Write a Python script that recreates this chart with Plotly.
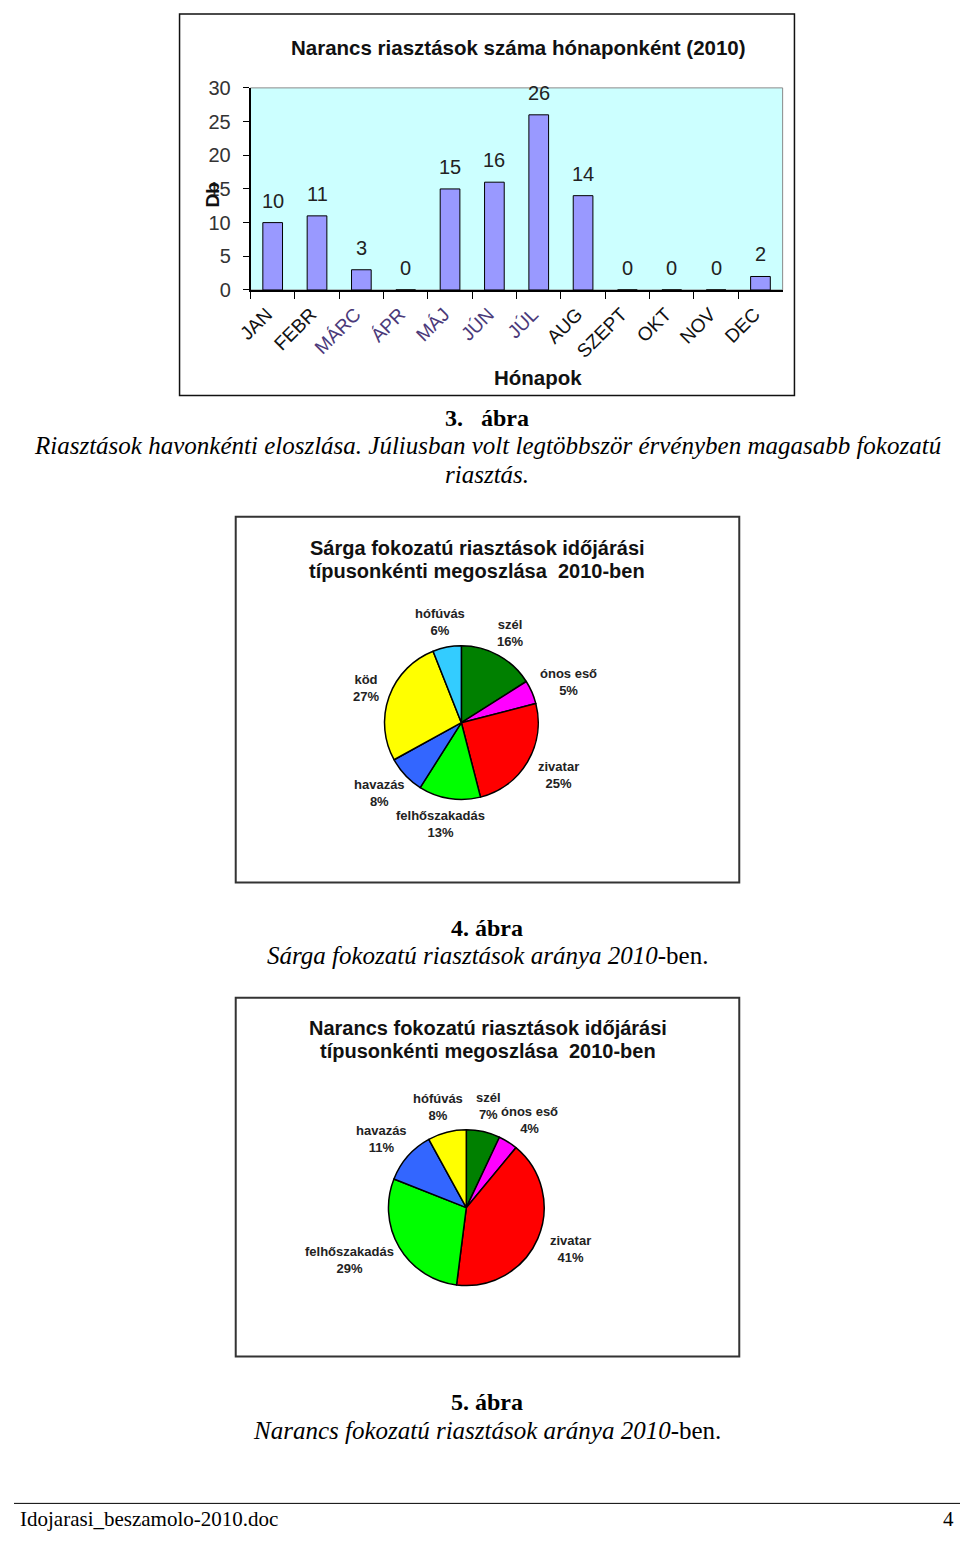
import math
import plotly.graph_objects as go

W, H = 960, 1541

# ---------------- data ----------------
months = ["JAN", "FEBR", "MÁRC", "ÁPR", "MÁJ", "JÚN", "JÚL", "AUG", "SZEPT", "OKT", "NOV", "DEC"]
orange_counts = [10, 11, 3, 0, 15, 16, 26, 14, 0, 0, 0, 2]
accented_months = ["MÁRC", "ÁPR", "MÁJ", "JÚN", "JÚL"]
y_ticks = [0, 5, 10, 15, 20, 25, 30]

yellow_types = ["szél", "ónos eső", "zivatar", "felhőszakadás", "havazás", "köd", "hófúvás"]
yellow_pct = [16, 5, 25, 13, 8, 27, 6]
yellow_colors = ["#008000", "#ff00ff", "#ff0000", "#00ff00", "#3366ff", "#ffff00", "#33ccff"]

orange_types = ["szél", "ónos eső", "zivatar", "felhőszakadás", "havazás", "hófúvás"]
orange_pct = [7, 4, 41, 29, 11, 8]
orange_colors = ["#008000", "#ff00ff", "#ff0000", "#00ff00", "#3366ff", "#ffff00"]


def X(px):
    return px / W


def Y(py):
    return 1 - py / H


fig = go.Figure()

# ---------------- bar chart ----------------
fig.add_trace(go.Bar(
    x=months, y=orange_counts,
    marker=dict(color="#9999ff", line=dict(color="#000000", width=1)),
    xaxis="x", yaxis="y", showlegend=False, hoverinfo="x+y",
))

tick_text = [
    (f"<span style='color:#4b3a7a'>{m}</span>" if m in accented_months else m) for m in months
]

fig.update_layout(
    xaxis=dict(
        domain=[X(240), X(780)], anchor="y",
        tickmode="array", tickvals=months, ticktext=tick_text,
        tickangle=-45, tickfont=dict(family="Liberation Sans, Arial", size=19, color="#111"),
        ticks="outside", ticklen=7, tickcolor="#000", tickson="boundaries",
        ticklabelstandoff=4, ticklabelshift=-6,
        showline=True, linecolor="#000", linewidth=1.5,
        showgrid=False, zeroline=False, fixedrange=True,
    ),
    yaxis=dict(
        domain=[Y(283), Y(78)], anchor="x",
        range=[0, 30], tickmode="array", tickvals=y_ticks,
        tickfont=dict(family="Liberation Sans, Arial", size=20, color="#333"),
        ticks="outside", ticklen=6, tickcolor="#000", ticklabelstandoff=8,
        showline=True, linecolor="#000", linewidth=1.5,
        showgrid=False, zeroline=False, fixedrange=True,
    ),
    plot_bgcolor="#ccffff",
    bargap=0.556,
)

annotations = []
# value labels above the bars, positioned through the data scales
for m, v in zip(months, orange_counts):
    annotations.append(dict(
        x=m, y=v, xref="x", yref="y", text=str(v), showarrow=False,
        yanchor="middle", yshift=22,
        font=dict(family="Liberation Sans, Arial", size=20, color="#222"),
    ))

shapes = [
    dict(type="rect", xref="x domain", yref="y domain", x0=0, x1=1, y0=0, y1=1,
         line=dict(color="#8a8a8a", width=1), layer="below"),
    dict(type="rect", xref="paper", yref="paper", x0=X(168), x1=X(792), y0=Y(390), y1=Y(3),
         line=dict(color="#111", width=1.5)),
    dict(type="rect", xref="paper", yref="paper", x0=X(225), x1=X(736), y0=Y(884), y1=Y(513),
         line=dict(color="#333", width=2)),
    dict(type="rect", xref="paper", yref="paper", x0=X(225), x1=X(736), y0=Y(1365), y1=Y(1001),
         line=dict(color="#333", width=2)),
    dict(type="line", xref="paper", yref="paper", x0=0, x1=1, y0=Y(1514), y1=Y(1514),
         line=dict(color="#000", width=1)),
]

sans_b = "Liberation Sans, Arial"
serif = "Liberation Serif, Times New Roman"


def txt(x, y, s, size, family=sans_b, color="#111", xanchor="center", yanchor="middle", angle=0):
    annotations.append(dict(
        x=X(x), y=Y(y), xref="paper", yref="paper", text=s, showarrow=False,
        xanchor=xanchor, yanchor=yanchor, textangle=angle,
        font=dict(family=family, size=size, color=color),
    ))


txt(512, 37, "<b>Narancs riasztások száma hónaponként (2010)</b>", 20.5)
txt(532, 372, "<b>Hónapok</b>", 20.5)
txt(201, 187, "<b>Db</b>", 19, angle=-90)

# ---------------- pies ----------------
LABEL_FS = 13


def add_pie(labels, values, colors, cx, cy, R, name):
    fig.add_trace(go.Pie(
        labels=labels, values=values, sort=False, direction="clockwise", rotation=0,
        marker=dict(colors=colors, line=dict(color="#000", width=1.5)),
        textinfo="none", showlegend=False, name=name,
        domain=dict(x=[X(cx - R), X(cx + R)], y=[Y(cy + R), Y(cy - R)]),
    ))
    total = sum(values)
    cum = 0
    for lab, v in zip(labels, values):
        f = (cum + v / 2) / total
        cum += v
        th = 2 * math.pi * f
        s, c = math.sin(th), math.cos(th)
        rr = R + 10
        w = 0.58 * LABEL_FS * max(len(lab), 4)
        h = 2 * LABEL_FS * 1.25
        px = cx + rr * s + s * w / 2
        py = cy - rr * c - c * h / 2
        pct = round(100 * v / total)
        txt(px, py, f"<b>{lab}<br>{pct}%</b>", LABEL_FS, color="#222")


add_pie(yellow_types, yellow_pct, yellow_colors, 454, 722, 78, "sárga")
add_pie(orange_types, orange_pct, orange_colors, 459, 1214, 79, "narancs")

txt(470, 545, "<b>Sárga fokozatú riasztások időjárási</b>", 20)
txt(470, 568, "<b>típusonkénti megoszlása  2010-ben</b>", 20)
txt(481, 1032, "<b>Narancs fokozatú riasztások időjárási</b>", 20)
txt(481, 1055, "<b>típusonkénti megoszlása  2010-ben</b>", 20)

# ---------------- captions ----------------
txt(480, 413, "<b>3.\u00a0\u00a0 ábra</b>", 24, family=serif, color="#000")
txt(480, 441, "<i>Riasztások havonkénti eloszlása. Júliusban volt legtöbbször érvényben magasabb fokozatú</i>",
    25, family=serif, color="#000")
txt(480, 470, "<i>riasztás.</i>", 25, family=serif, color="#000")
txt(480, 930, "<b>4. ábra</b>", 24, family=serif, color="#000")
txt(480, 958, "<i>Sárga fokozatú riasztások aránya 2010</i>-ben.", 25, family=serif, color="#000")
txt(480, 1411, "<b>5. ábra</b>", 24, family=serif, color="#000")
txt(480, 1440, "<i>Narancs fokozatú riasztások aránya 2010</i>-ben.", 25, family=serif, color="#000")
txt(4, 1530, "Idojarasi_beszamolo-2010.doc", 21, family=serif, color="#000", xanchor="left")
txt(956, 1530, "4", 21, family=serif, color="#000", xanchor="right")

fig.update_layout(
    width=W, height=H, autosize=False,
    margin=dict(l=0, r=0, t=0, b=0),
    paper_bgcolor="#ffffff",
    annotations=annotations, shapes=shapes,
)

fig.write_html("out.html")
